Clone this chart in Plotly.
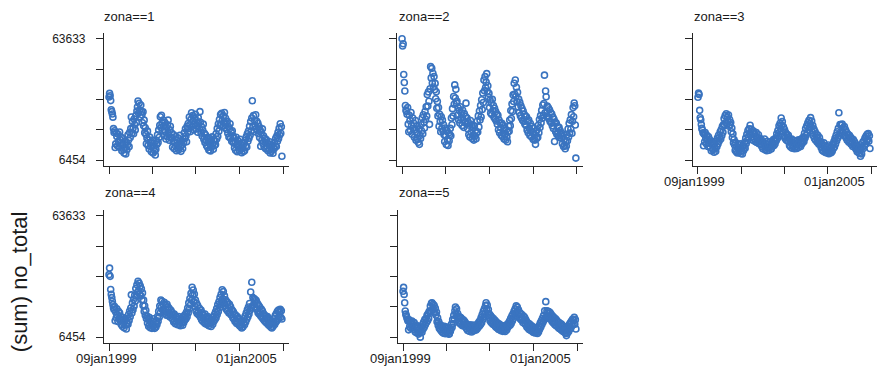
import pandas as pd
import plotly.graph_objects as go

# ---------------- data (weekly sums, thousands) ----------------
start_date = "1999-01-09"
zona_labels = ["zona==1", "zona==2", "zona==3", "zona==4", "zona==5"]

zona1 = [36.2, 37.9, 36.8, 34.5, 30.2, 29.3, 28.2, 26.7, 21.3, 19.5,
         20.3, 12.4, 14.1, 19.2, 17.6, 13.2, 18.8, 15.4, 12.6, 19.7, 16.1,
         14.3, 17.2, 10.9, 13.8, 16.5, 11.6, 9.8, 15.1, 12.4, 9.4, 14.7, 11.3,
         13.6, 18.4, 15.9, 12.8, 19.6, 17.1, 21.3, 26.8,
         19.2, 24.6, 21.5, 18.9, 25.8, 23.1, 20.7, 27.4, 24.2, 29.6,
         31.5, 34.3, 28.6, 33.2, 30.1, 26.9, 32.4, 29.3,
         27.8, 24.1, 29.2, 22.6, 25.3, 19.4, 21.7,
         18.6, 14.2, 16.9, 20.1, 13.4, 15.8, 11.7, 17.3, 12.9, 14.6, 10.4, 13.1, 15.9, 9.8, 12.2, 14.4, 10.7, 8.9,
         11.6, 15.7, 13.9, 18.4, 14.8, 20.6, 17.2, 22.9,
         26.9, 21.8, 27.6, 23.9, 20.4, 25.3,
         22.6, 18.1, 24.3, 19.7, 16.4, 21.9, 17.6, 23.1, 25.3, 18.9, 15.8, 20.7, 22.4, 17.2, 19.3,
         16.8, 12.6, 15.3, 18.4, 11.8, 14.9, 13.2, 17.5, 10.9, 15.6, 12.3, 16.9, 11.4, 14.1, 18.1, 12.8, 10.6, 15.2, 13.7, 11.9, 16.4,
         14.7, 19.3, 16.6, 21.2, 17.8, 15.1, 22.4, 19.6, 23.7,
         21.4, 26.8, 23.1, 19.9, 25.7, 28.8, 22.3, 27.4, 24.6, 20.8, 26.2, 23.5, 28.1, 21.2, 25.1, 22.7, 19.6, 26.5, 23.9, 21.1, 29.3,
         24.3, 19.2, 22.1, 17.8, 20.6, 23.4, 16.3, 19.1, 14.8, 18.4, 15.6, 13.2,
         17.1, 12.4, 15.3, 11.2, 16.7, 13.9, 10.8, 15.8, 12.6, 17.4, 14.2, 11.6, 16.1, 13.4, 15.5,
         13.8, 18.9, 16.4, 21.3, 17.7, 23.5, 20.1, 25.6, 22.8,
         27.9, 23.2, 28.5, 25.1, 22.4, 27.3, 24.6, 28.9, 21.7, 26.2, 23.8, 20.9,
         24.7, 19.1, 22.3, 17.4, 21.2, 23.6, 16.8, 19.7, 15.4, 20.3, 17.9, 14.6,
         16.9, 12.3, 14.8, 11.1, 17.2, 13.6, 10.4, 15.7, 12.8, 14.1, 10.9, 16.3, 11.7, 13.4, 9.9, 14.6, 12.1, 10.5,
         14.2, 10.9, 15.8, 13.1, 17.4, 12.6, 18.9, 15.3, 20.1, 16.8, 22.4, 18.2,
         24.6, 20.2, 26.3, 34.4, 22.1, 27.4, 19.8, 25.1, 22.9, 27.8, 21.3, 24.7, 20.4, 23.8, 18.9,
         22.3, 17.1, 20.6, 13.0, 19.4, 15.8, 21.2, 14.3, 17.9, 12.6, 16.7, 14.9, 11.8, 16.2, 13.1,
         14.7, 10.9, 13.8, 11.6, 15.1, 9.8, 12.9, 10.6, 13.5, 11.2, 9.7, 12.4,
         11.8, 14.9, 13.2, 16.8, 12.9, 17.9, 15.4, 19.6, 16.7, 21.4, 18.3, 23.6, 19.1, 22.2,
         8.3]

zona2 = [63.633, 60.2, 61.3, 46.8, 43.0, 39.0, 32.2, 30.0, 29.4, 28.1,
         31.2, 23.4, 19.8, 27.6, 25.1, 20.4, 28.9, 22.7, 18.6, 26.3, 21.5,
         23.8, 17.2, 20.9, 25.1, 15.8, 19.4, 22.6, 16.3, 14.9, 21.2, 13.9, 18.1,
         16.7, 23.1, 20.2, 26.4, 18.9, 27.8, 24.3, 21.6, 29.4, 25.7, 31.6, 27.2,
         37.4, 31.9, 38.6, 34.2, 23.3, 40.1,
         50.5, 45.2, 49.7, 42.8, 47.4, 40.9, 45.8, 39.6,
         42.6, 35.4, 38.7, 30.9, 34.1, 27.3, 31.2,
         22.4, 28.1, 24.6, 19.8, 26.9, 21.5, 25.3, 20.2,
         23.1, 18.4, 15.2, 21.6, 17.9, 13.8, 20.4, 16.1, 13.4, 19.2, 15.6, 18.5,
         21.4, 17.9, 26.3, 23.1, 30.7, 27.2, 36.4, 32.8, 41.9, 35.7, 39.8, 33.4,
         34.2, 27.6, 31.1, 25.4, 29.8, 23.9, 31.6, 26.2, 28.7, 22.8, 30.1, 25.5, 21.9, 28.4, 24.3, 27.1, 33.3, 23.6,
         26.3, 21.2, 24.4, 18.5, 22.9, 17.3, 25.1, 19.6, 23.1, 16.6, 21.7, 18.2, 15.9, 22.6, 17.8, 20.4, 16.5, 19.3,
         24.8, 19.7, 27.3, 22.1, 29.6, 25.4, 32.2, 26.8, 34.9, 30.3, 38.1, 33.6,
         44.2, 39.1, 45.8, 40.7, 43.2, 47.2, 38.9, 41.5, 36.2,
         37.9, 31.2, 34.8, 28.6, 33.4, 27.9, 35.1, 29.8, 32.2, 26.7, 30.9, 25.8, 29.4, 24.9, 28.2,
         23.4, 27.6, 20.8, 25.3, 19.4, 24.1, 21.7, 18.2, 23.8, 17.6, 22.9, 19.1, 16.4, 21.3, 18.7, 15.9, 20.6, 17.3, 15.1, 19.8, 22.4,
         20.1, 25.3, 22.7, 29.8, 26.1, 32.9, 29.4, 37.2, 34.1, 42.7, 37.6, 44.2, 36.5, 40.8, 33.9,
         38.4, 31.6, 35.2, 28.9, 33.7, 27.4, 32.1, 26.3, 30.8, 25.2, 29.6, 24.6, 28.1, 23.5, 27.2,
         22.8, 26.9, 20.6, 24.8, 19.3, 25.3, 21.4, 18.1, 23.7, 20.2, 17.4, 22.3, 19.6, 16.2, 21.4, 18.3, 15.9, 13.9, 19.8, 16.7, 20.9,
         17.2, 22.9, 19.4, 25.6, 21.8, 27.4, 24.1, 29.9, 26.2,
         32.4, 27.6, 33.1, 46.5, 28.7, 39.0, 36.3, 27.2, 31.9, 26.9, 31.1, 25.8, 30.2, 24.6, 28.9,
         24.1, 28.2, 22.6, 26.8, 21.3, 25.7, 15.2, 24.4, 19.8, 23.9, 18.7, 22.4, 19.6, 17.8, 21.9, 17.1, 20.4, 18.6,
         16.9, 19.1, 14.2, 17.6, 12.9, 16.1, 13.5, 11.8, 15.2,
         13.1, 18.4, 15.6, 21.1, 17.4, 23.8, 19.2, 25.4, 21.1, 27.9, 19.1, 24.8, 31.2, 26.9, 33.4, 32.1, 23.0,
         7.4]

zona3 = [36.1, 38.0, 37.4, 29.9, 26.4, 25.5, 23.2, 21.4, 20.6, 19.3,
         13.2, 18.6, 15.1, 19.4, 16.8, 14.2, 18.1, 15.9, 12.9, 17.4, 14.6,
         16.1, 12.4, 14.8, 10.9, 13.9, 15.2, 11.3, 13.5, 10.2, 14.1, 11.8, 10.6,
         15.4, 12.8, 16.9, 14.1, 18.2, 15.3, 17.1, 19.8, 16.4, 20.9, 18.1, 22.4, 19.6, 23.2,
         26.1, 22.8, 27.4, 24.2, 28.3, 23.6, 26.8, 24.9, 27.7, 22.4, 25.6, 23.1,
         24.2, 19.8, 21.6, 17.1, 18.9, 14.6, 16.2,
         13.6, 11.1, 14.7, 10.4, 12.9, 9.8, 13.8, 11.6, 10.2, 12.4, 14.1, 9.6, 11.9, 10.7, 9.4, 13.1, 10.9, 12.2,
         14.9, 12.1, 16.8, 14.3, 18.6, 15.7, 20.4, 17.3, 21.2, 18.8, 22.9, 19.6,
         21.1, 17.3, 19.5, 15.8, 20.2, 16.6, 18.9, 15.2, 17.7, 19.4, 14.8, 17.1, 15.6, 18.4, 14.2, 16.8, 15.3, 13.9,
         16.2, 12.9, 15.1, 11.8, 14.6, 13.2, 16.4, 11.4, 14.1, 12.6, 10.9, 15.3, 12.2, 13.8, 11.1, 14.9, 12.5, 13.6, 11.7, 15.1, 12.9, 14.4, 16.1, 13.3, 15.6, 14.2, 16.8,
         15.6, 18.9, 16.7, 20.4, 18.1, 22.6, 19.7, 23.8, 21.4, 26.3, 22.9,
         24.6, 19.8, 22.1, 17.6, 20.9, 16.8, 19.4, 15.9, 18.7, 17.2, 15.4, 18.1,
         16.9, 13.4, 15.8, 12.6, 14.9, 16.4, 12.1, 14.5, 13.1, 15.7, 11.8, 14.2, 12.7, 15.4, 11.9, 13.8, 15.9, 12.4, 14.6, 13.2, 16.1, 12.9, 15.3, 14.1, 16.7, 14.8, 17.3,
         15.2, 19.1, 16.9, 21.3, 18.2, 22.6, 19.4, 24.1, 20.8, 25.2, 21.9, 23.7, 26.5, 22.3, 24.9,
         19.6, 22.8, 17.9, 21.1, 16.6, 19.9, 15.8, 18.9, 17.1, 14.9, 18.2, 15.6, 13.9, 17.1, 14.4,
         15.3, 12.4, 14.2, 11.1, 13.7, 10.6, 14.6, 11.9, 10.2, 13.2, 11.4, 9.8, 12.7, 10.9, 13.6, 9.5, 11.8, 10.3, 12.6, 9.9, 11.2,
         10.6, 13.8, 11.9, 15.2, 12.6, 16.7, 14.1, 18.2, 15.6, 19.8, 16.9, 21.4, 28.8, 18.1, 23.2, 19.6, 22.9, 18.8, 23.4, 19.9, 21.7, 18.2, 22.3, 17.9,
         20.7, 16.9, 19.6, 15.8, 18.7, 16.9, 14.9, 18.1, 15.4, 17.3, 13.9, 16.6, 14.8, 12.9, 16.1, 13.6, 15.2, 12.4,
         14.3, 11.6, 13.1, 10.4, 12.7, 11.3, 9.9, 12.2, 9.6, 8.3, 11.6, 9.4,
         12.6, 14.8, 11.9, 15.6, 13.2, 16.9, 14.1, 17.8, 15.2, 18.6, 16.3, 19.0, 15.4, 17.9,
         11.9]

zona4 = [35.9, 39.0, 35.1, 28.9, 26.6, 25.1, 23.4, 21.8, 20.3, 19.5,
         20.9, 14.2, 18.3, 15.6, 19.8, 16.9, 13.8, 18.7, 15.1, 17.9, 14.6,
         16.2, 12.4, 14.8, 11.6, 15.7, 13.1, 10.9, 14.3, 12.2, 15.1, 10.3, 12.9,
         15.4, 12.6, 17.1, 14.3, 18.8, 16.1, 20.2, 26.4, 17.9, 22.6, 19.4, 24.3, 21.1, 26.2, 23.4,
         29.4, 25.8, 31.1, 27.6, 32.8, 28.4, 31.9, 26.7, 30.6, 25.9, 29.2,
         24.1, 27.3, 21.4, 23.9, 18.6, 21.2, 16.8, 19.1, 15.2,
         16.4, 13.1, 14.9, 11.6, 15.8, 12.4, 10.9, 14.3, 12.8, 10.6, 13.9, 11.4, 15.1, 12.1, 10.6, 13.6, 11.3, 14.2,
         12.4, 16.2, 13.9, 18.6, 15.8, 21.1, 17.9, 24.0, 20.6, 23.4, 19.3, 22.1,
         18.6, 22.9, 17.8, 21.6, 19.4, 16.8, 21.9, 18.1, 20.7, 16.4, 19.9, 17.3, 15.8, 19.1, 17.1,
         18.1, 14.9, 16.8, 13.6, 17.4, 14.2, 12.8, 16.3, 13.7, 15.6, 12.3, 14.8, 16.2, 12.6, 14.1, 11.8, 15.4, 13.2, 14.7, 12.1, 15.9, 13.4, 16.6, 14.5, 17.2, 15.1, 18.3,
         16.1, 20.2, 17.9, 22.6, 19.8, 24.7, 21.6, 27.1, 23.8, 30.0, 26.4, 28.7, 23.2, 26.8, 20.9,
         23.9, 18.7, 22.4, 17.6, 21.3, 18.4, 16.9, 20.1, 17.5,
         15.8, 19.2, 14.7, 17.9, 13.9, 16.8, 15.1, 13.2, 17.3, 12.8, 15.9, 14.1, 12.4, 16.2, 13.3, 11.8, 15.4, 12.9, 14.6, 11.5, 13.8, 15.7, 12.6, 16.1, 13.9, 17.1, 14.8,
         18.4, 15.6, 19.9, 17.1, 21.8, 18.6, 23.1, 20.2, 25.1, 21.7, 26.6, 23.1, 28.8, 24.4, 27.9, 22.6, 25.9, 21.3,
         24.1, 19.7, 23.2, 18.9, 22.7, 20.1, 17.8, 21.9, 18.3, 20.8, 16.9, 19.4,
         19.1, 15.6, 18.4, 14.9, 17.2, 13.8, 16.9, 14.1, 12.9, 16.2, 13.4, 15.4, 12.2, 14.8, 11.6, 13.9, 12.4, 10.8, 14.2, 11.3, 13.1,
         15.1, 12.3, 16.4, 13.6, 17.8, 14.9, 19.3, 16.1, 20.7, 17.4, 22.3, 19.1, 27.7, 20.3, 32.3, 21.1, 25.1, 21.6, 24.6, 20.7, 24.2, 20.1, 23.7, 19.6,
         22.4, 18.1, 21.6, 17.4, 20.8, 18.2, 16.4, 19.7, 15.8, 18.9, 15.1, 17.6, 14.4, 16.9, 13.8, 16.3, 13.2, 15.1,
         16.2, 12.6, 15.3, 11.9, 14.8, 12.7, 11.2, 14.1, 10.8, 13.4, 11.5, 12.9,
         15.2, 12.4, 16.6, 13.5, 17.6, 14.2, 18.7, 15.3, 19.2, 16.1, 18.4, 19.6, 15.8, 18.9,
         15.0]

zona5 = [28.1, 29.9, 26.6, 22.7, 18.8, 17.3, 16.5, 15.6, 14.8, 14.1,
         9.9, 14.6, 11.4, 13.8, 10.6, 12.9, 14.1, 11.1, 12.4, 10.2, 13.3,
         11.8, 8.9, 10.7, 12.1, 8.4, 9.8, 11.2, 7.9, 10.1, 8.6, 6.454, 9.4,
         11.2, 8.8, 12.4, 10.3, 13.6, 11.1, 14.7, 12.3, 15.2, 13.4, 16.8, 14.2, 17.6, 15.3, 18.7,
         18.2, 21.1, 18.9, 22.4, 22.7, 19.6, 21.9, 18.4, 21.3, 17.8, 20.1,
         16.9, 18.3, 13.7, 15.6, 12.1, 13.8, 10.6, 12.4, 9.9,
         12.1, 9.2, 11.3, 8.6, 10.9, 8.3, 11.6, 9.4, 8.1, 10.6, 9.1, 11.2, 8.4, 9.7, 7.9, 8.0, 10.1, 9.3,
         10.4, 12.6, 11.1, 14.7, 12.9, 16.8, 14.8, 18.9, 20.7, 17.4, 19.8, 15.9,
         17.6, 14.1, 16.2, 13.2, 15.9, 12.7, 15.6, 13.9, 11.9, 14.8, 12.3, 14.4, 11.6, 13.7, 12.5,
         12.9, 10.4, 12.1, 9.6, 11.8, 10.7, 9.2, 12.3, 10.1, 11.4, 8.9, 10.8, 12.2, 9.4, 11.1, 9.7, 10.6, 12.1, 9.8, 11.3, 10.4, 12.8, 11.2, 13.6, 11.7, 14.3, 12.4,
         15.7, 13.2, 17.1, 14.8, 18.7, 16.1, 19.9, 17.6, 21.3, 22.7, 19.4, 21.6, 17.7, 19.5, 15.8,
         17.4, 14.2, 16.6, 13.4, 15.9, 14.1, 12.6, 15.2, 13.3,
         12.1, 14.4, 11.4, 13.7, 10.9, 13.2, 11.8, 10.2, 12.7, 9.9, 12.3, 10.8, 9.5, 11.9, 10.3, 9.2, 11.6, 9.8, 11.1, 9.1, 10.7, 12.2, 9.9, 12.3, 11.1, 13.1, 11.9,
         14.1, 12.1, 15.2, 12.9, 16.4, 14.1, 17.3, 15.2, 18.6, 16.4, 19.8, 17.6, 21.2, 18.4, 20.6, 17.1, 19.3, 16.1,
         18.1, 15.1, 17.6, 14.6, 17.1, 14.9, 13.4, 16.4, 14.1, 15.8, 12.6, 14.7,
         14.1, 11.3, 13.4, 10.8, 12.9, 10.1, 12.6, 11.2, 9.6, 11.9, 10.4, 9.1, 11.3, 8.7, 10.6, 9.3, 8.4, 10.2, 8.8, 9.7, 8.2,
         10.4, 8.9, 11.8, 10.2, 13.1, 11.3, 14.2, 12.4, 15.3, 13.5, 16.6, 14.6, 18.9, 15.3, 23.2, 16.1, 18.9, 15.8, 18.7, 15.6, 18.4, 15.3, 17.9, 14.9,
         17.1, 13.9, 16.4, 13.3, 15.9, 13.8, 12.4, 15.2, 11.9, 14.6, 11.6, 13.9, 12.4, 10.8, 13.4, 10.4, 12.8, 10.1,
         12.6, 9.6, 11.9, 9.1, 11.4, 9.9, 8.6, 10.8, 8.2, 7.2, 9.7, 8.4,
         11.3, 9.1, 12.4, 10.2, 13.2, 10.9, 14.1, 11.8, 14.9, 12.4, 14.4, 15.8, 12.6, 14.7,
         10.3]

x_tick_dates = ["1999-01-09", "2000-07-08", "2002-01-04", "2003-07-05", "2005-01-01"]
x_tick_text = ["09jan1999", "", "", "", "01jan2005"]
y_tick_vals = [6454, 20748.75, 35043.5, 49338.25, 63633]
y_tick_text = ["6454", "", "", "", "63633"]
y_title = "(sum) no_total"

# ---------------- layout ----------------
W, H = 877, 368
FONT = "Liberation Sans, Arial, Helvetica, sans-serif"
MARK = "#3a74c0"
AX = "#262626"

# (left, right, top, bottom) in pixels
boxes = [(104, 289, 32.5, 166), (397, 583, 32.5, 166), (693, 877, 32.5, 166),
         (104, 289, 211, 344.5), (398, 583, 211, 344.5)]
title_pos = [(102, 15.5), (397, 15.5), (692, 15.5), (103, 193), (397, 193)]
ylabel_panels = {0, 3}
xlabel_panels = {2: 182, 3: 360, 4: 360}

x_range = ["1998-11-07", "2005-03-17"]
y_range = [3854, 66233]

fig = go.Figure()
series = [zona1, zona2, zona3, zona4, zona5]
annotations = []
for i, vals in enumerate(series):
    dates = pd.date_range(start_date, periods=len(vals), freq="7D")
    xa = "x" if i == 0 else f"x{i+1}"
    ya = "y" if i == 0 else f"y{i+1}"
    fig.add_trace(go.Scatter(
        x=dates, y=[v * 1000 for v in vals], mode="markers",
        xaxis=xa, yaxis=ya, showlegend=False, hoverinfo="skip",
        marker=dict(symbol="circle-open", size=6, color=MARK,
                    line=dict(width=1.6, color=MARK)),
    ))
    l, r, t, b = boxes[i]
    xkey = "xaxis" if i == 0 else f"xaxis{i+1}"
    ykey = "yaxis" if i == 0 else f"yaxis{i+1}"
    fig.update_layout(**{
        xkey: dict(domain=[l / W, r / W], range=x_range, type="date",
                   anchor=ya, tickvals=x_tick_dates, showticklabels=False,
                   ticks="outside", ticklen=7, tickwidth=1.2, tickcolor=AX,
                   showline=True, linecolor=AX, linewidth=1.2,
                   showgrid=False, zeroline=False),
        ykey: dict(domain=[1 - b / H, 1 - t / H], range=y_range,
                   anchor=xa, tickvals=y_tick_vals, ticktext=y_tick_text,
                   showticklabels=(i in ylabel_panels), ticklabelstandoff=8,
                   tickfont=dict(family=FONT, size=12, color="#1a1a1a"),
                   ticks="outside", ticklen=7, tickwidth=1.2, tickcolor=AX,
                   showline=True, linecolor=AX, linewidth=1.2,
                   showgrid=False, zeroline=False),
    })
    tx, ty = title_pos[i]
    annotations.append(dict(text=zona_labels[i], xref="paper", yref="paper",
                            x=tx / W, y=1 - ty / H, xanchor="left", yanchor="middle",
                            showarrow=False, font=dict(family=FONT, size=13, color="#1a1a1a")))
    if i in xlabel_panels:
        ly = xlabel_panels[i]
        for d, txt in zip(x_tick_dates, x_tick_text):
            if not txt:
                continue
            first = d == x_tick_dates[0]
            annotations.append(dict(text=txt, xref=xa, yref="paper", x=d,
                                    y=1 - ly / H, yanchor="middle",
                                    xanchor="center" if first else "right",
                                    xshift=-3 if first else -4,
                                    showarrow=False,
                                    font=dict(family=FONT, size=13, color="#1a1a1a")))

annotations.append(dict(text=y_title, xref="paper", yref="paper", x=19 / W,
                        y=1 - 283.5 / H, xanchor="center", yanchor="middle",
                        textangle=-90, showarrow=False,
                        font=dict(family=FONT, size=22, color="#1a1a1a")))

fig.update_layout(width=W, height=H, autosize=False,
                  margin=dict(l=0, r=0, t=0, b=0, pad=0),
                  paper_bgcolor="white", plot_bgcolor="white",
                  annotations=annotations)

fig.write_html("out.html")
